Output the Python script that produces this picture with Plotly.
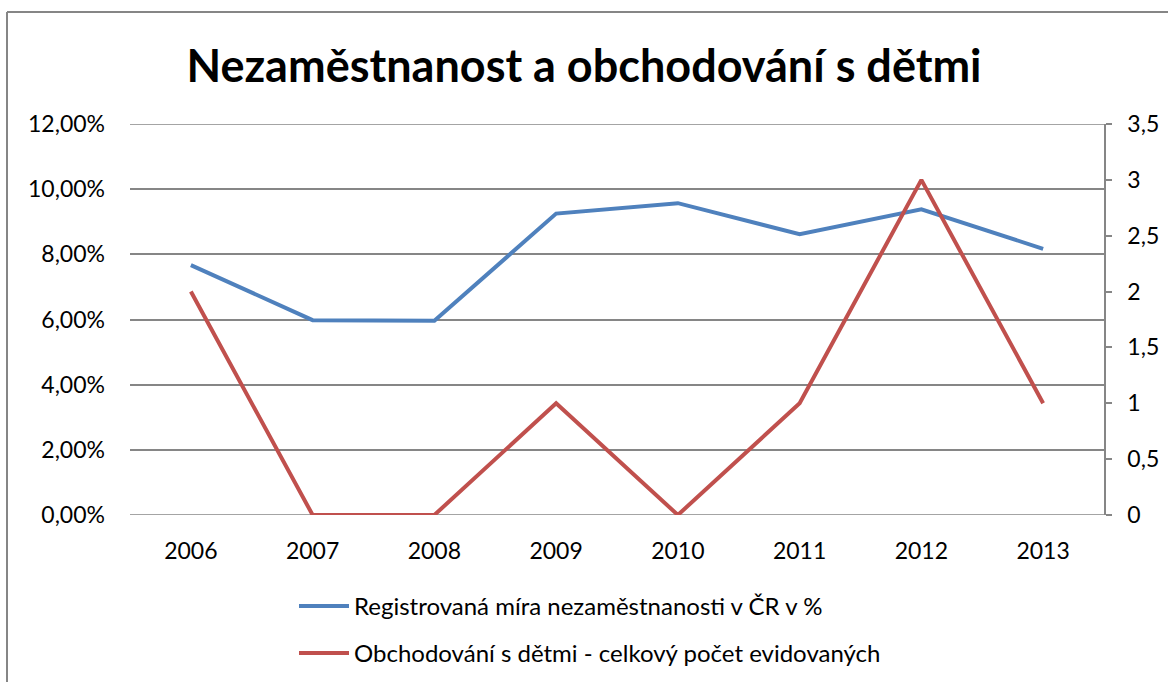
import plotly.graph_objects as go

years = ["2006", "2007", "2008", "2009", "2010", "2011", "2012", "2013"]
unemployment = [0.0767, 0.0598, 0.0596, 0.0925, 0.0957, 0.0862, 0.0938, 0.0817]
trafficking = [2, 0, 0, 1, 0, 1, 3, 1]
left_ticks = [0, 0.02, 0.04, 0.06, 0.08, 0.10, 0.12]
right_ticks = [0, 0.5, 1, 1.5, 2, 2.5, 3, 3.5]

name_blue = "Registrovaná míra nezaměstnanosti v ČR v %"
name_red = "Obchodování s dětmi - celkový počet evidovaných"

W, H = 1168, 682
L, R, T, B = 130, 1104, 124, 515
FONT = "Lato"
GRID = "#868686"

def px_x(p):
    return (p - L) / (R - L)

def px_y(p):
    return (B - p) / (B - T)

fig = go.Figure()
fig.add_trace(go.Scatter(x=years, y=unemployment, mode="lines", name=name_blue,
                         line=dict(color="#4F81BD", width=4), legend="legend"))
fig.add_trace(go.Scatter(x=years, y=trafficking, mode="lines", name=name_red,
                         line=dict(color="#C0504D", width=4), yaxis="y2", legend="legend2"))

edge_lines = [dict(type="line", xref="paper", yref="y", x0=0, x1=1, y0=v, y1=v,
                   line=dict(color=GRID, width=1.5), layer="below")
              for v in (left_ticks[0], left_ticks[-1])]

fig.update_layout(
    width=W, height=H,
    margin=dict(l=L, r=W - R, t=T, b=H - B, autoexpand=False),
    paper_bgcolor="white", plot_bgcolor="white",
    separators=", ",
    font=dict(family=FONT, size=23, color="black"),
    title=dict(text="<b>Nezaměstnanost a obchodování s dětmi</b>", x=0.5, xanchor="center",
               y=1 - 66 / H, yanchor="middle", font=dict(family=FONT, size=45, color="black")),
    xaxis=dict(type="category", range=[-0.5, 7.5], showgrid=False, showline=False,
               ticks="", tickfont=dict(size=23), zeroline=False, ticklabelstandoff=20),
    yaxis=dict(range=[0, 0.12], tickvals=left_ticks, tickformat=".2%", showgrid=True,
               gridcolor=GRID, gridwidth=1.5, showline=False, ticks="", zeroline=False,
               tickfont=dict(size=23), ticklabelstandoff=24),
    yaxis2=dict(range=[0, 3.5], tickvals=right_ticks, overlaying="y", side="right",
                showgrid=False, showline=True, linecolor=GRID, linewidth=1.5,
                ticks="outside", ticklen=6, tickcolor=GRID, tickwidth=1.5,
                zeroline=False, tickfont=dict(size=23), ticklabelstandoff=11),
    legend=dict(x=px_x(294), y=px_y(584), xanchor="left", yanchor="top",
                bgcolor="rgba(0,0,0,0)", font=dict(size=24), itemwidth=50),
    legend2=dict(x=px_x(294), y=px_y(631), xanchor="left", yanchor="top",
                 bgcolor="rgba(0,0,0,0)", font=dict(size=24), itemwidth=50),
    showlegend=True,
    shapes=edge_lines + [
        dict(type="line", xref="paper", yref="paper", x0=px_x(7), x1=px_x(1175),
             y0=px_y(12), y1=px_y(12), line=dict(color=GRID, width=2)),
        dict(type="line", xref="paper", yref="paper", x0=px_x(7), x1=px_x(7),
             y0=px_y(12), y1=px_y(690), line=dict(color=GRID, width=2)),
    ],
)

fig.write_html("out.html", config={"displayModeBar": False},
               post_script="document.body.style.margin='0';document.body.style.overflow='hidden';")
